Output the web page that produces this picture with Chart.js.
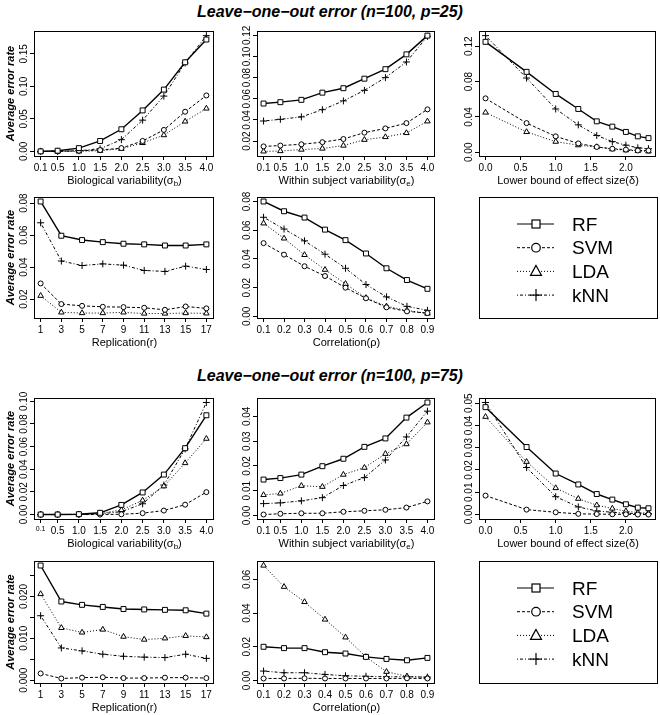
<!DOCTYPE html>
<html lang="en">
<head>
<meta charset="utf-8">
<title>Leave-one-out error</title>
<script src="https://cdn.jsdelivr.net/npm/chart.js@4.4.1/dist/chart.umd.min.js"></script>
<style>
    body { margin: 0; background: #fff; }
    #page { position: relative; width: 660px; height: 715px; overflow: hidden;
            font-family: "Liberation Sans", Arial, Helvetica, sans-serif; color: #000; }
    #page canvas, #page svg { position: absolute; }
    .main-title { position: absolute; left: 0; width: 660px; text-align: center;
                  font-size: 16px; line-height: 18px; font-weight: bold; font-style: italic; }
    .x-title { position: absolute; width: 220px; text-align: center; font-size: 11px;
               line-height: 14px; white-space: nowrap; }
    .x-title sub { font-size: 8px; line-height: 0; vertical-align: -2px; }
</style>
</head>
<body>
<div id="page"></div>
<script>
// Methods compared in every panel
const methods = ['RF', 'SVM', 'LDA', 'kNN'];

// x values and tick labels
const sigmaLevels = [0.1, 0.5, 1.0, 1.5, 2.0, 2.5, 3.0, 3.5, 4.0];
const sigmaTickLabels = ['0.1', '0.5', '1.0', '1.5', '2.0', '2.5', '3.0', '3.5', '4.0'];
const deltaLevels = [0, 0.585, 1, 1.322, 1.585, 1.807, 2, 2.17, 2.322];
const deltaTicks = [0, 0.5, 1, 1.5, 2];
const deltaTickLabels = ['0.0', '0.5', '1.0', '1.5', '2.0'];
const replicationLevels = [1, 3, 5, 7, 9, 11, 13, 15, 17];
const replicationTickLabels = ['1', '3', '5', '7', '9', '11', '13', '15', '17'];
const correlationLevels = [0.1, 0.2, 0.3, 0.4, 0.5, 0.6, 0.7, 0.8, 0.9];
const correlationTickLabels = ['0.1', '0.2', '0.3', '0.4', '0.5', '0.6', '0.7', '0.8', '0.9'];

// p = 25
const bio25RF  = [0.000, 0.001, 0.005, 0.016, 0.034, 0.063, 0.095, 0.137, 0.172];
const bio25SVM = [0.000, 0.000, 0.001, 0.002, 0.005, 0.016, 0.033, 0.061, 0.086];
const bio25LDA = [0.000, 0.000, 0.000, 0.001, 0.004, 0.013, 0.025, 0.046, 0.066];
const bio25KNN = [0.000, 0.000, 0.001, 0.004, 0.018, 0.048, 0.085, 0.136, 0.178];
const bio25YTicks = [0, 0.05, 0.10, 0.15];
const bio25YLabels = ['0.00', '0.05', '0.10', '0.15'];

const within25RF  = [0.0555, 0.0568, 0.0590, 0.0658, 0.0700, 0.0790, 0.0880, 0.1020, 0.1197];
const within25SVM = [0.0150, 0.0158, 0.0170, 0.0190, 0.0220, 0.0280, 0.0320, 0.0370, 0.0500];
const within25LDA = [0.0103, 0.0106, 0.0120, 0.0130, 0.0158, 0.0213, 0.0239, 0.0277, 0.0387];
const within25KNN = [0.0390, 0.0406, 0.0429, 0.0497, 0.0580, 0.0680, 0.0800, 0.0948, 0.1190];
const within25YTicks = [0.02, 0.04, 0.06, 0.08, 0.10, 0.12];
const within25YLabels = ['0.02', '0.04', '0.06', '0.08', '0.10', '0.12'];

const delta25RF  = [0.125, 0.091, 0.066, 0.049, 0.035, 0.029, 0.023, 0.018, 0.016];
const delta25SVM = [0.061, 0.033, 0.018, 0.010, 0.006, 0.004, 0.003, 0.002, 0.002];
const delta25LDA = [0.045, 0.023, 0.012, 0.008, 0.006, 0.0035, 0.0023, 0.0016, 0.001];
const delta25KNN = [0.132, 0.084, 0.049, 0.031, 0.019, 0.012, 0.008, 0.005, 0.004];
const delta25YTicks = [0, 0.04, 0.08, 0.12];
const delta25YLabels = ['0.00', '0.04', '0.08', '0.12'];

const rep25RF  = [0.0810, 0.0596, 0.0569, 0.0556, 0.0546, 0.0542, 0.0535, 0.0535, 0.0542];
const rep25SVM = [0.0298, 0.0169, 0.0158, 0.0152, 0.0150, 0.0146, 0.0133, 0.0154, 0.0142];
const rep25LDA = [0.0221, 0.0117, 0.0113, 0.0113, 0.0117, 0.0110, 0.0110, 0.0113, 0.0111];
const rep25KNN = [0.0677, 0.0438, 0.0410, 0.0420, 0.0412, 0.0379, 0.0373, 0.0406, 0.0385];
const rep25YTicks = [0.02, 0.04, 0.06, 0.08];
const rep25YLabels = ['0.02', '0.04', '0.06', '0.08'];

const corr25RF  = [0.0800, 0.0732, 0.0688, 0.0604, 0.0531, 0.0438, 0.0335, 0.0253, 0.0192];
const corr25SVM = [0.0510, 0.0430, 0.0349, 0.0281, 0.0200, 0.0126, 0.0063, 0.0035, 0.0023];
const corr25LDA = [0.0648, 0.0543, 0.0428, 0.0325, 0.0227, 0.0129, 0.0070, 0.0042, 0.0020];
const corr25KNN = [0.0690, 0.0608, 0.0526, 0.0433, 0.0335, 0.0222, 0.0136, 0.0070, 0.0042];
const corr25YTicks = [0, 0.02, 0.04, 0.06, 0.08];
const corr25YLabels = ['0.00', '0.02', '0.04', '0.06', '0.08'];

// p = 75
const bio75RF  = [0, 0, 0.0003, 0.0015, 0.0085, 0.0195, 0.0353, 0.0586, 0.0877];
const bio75SVM = [0, 0, 0, 0, 0.0002, 0.0012, 0.0035, 0.0087, 0.0198];
const bio75LDA = [0, 0, 0.0003, 0.0010, 0.0040, 0.0125, 0.0250, 0.0455, 0.0670];
const bio75KNN = [0, 0, 0, 0.0006, 0.0025, 0.0095, 0.0260, 0.0580, 0.0990];
const bio75YTicks = [0, 0.02, 0.04, 0.06, 0.08, 0.10];
const bio75YLabels = ['0.00', '0.02', '0.04', '0.06', '0.08', '0.10'];

const within75RF  = [0.0145, 0.0151, 0.0165, 0.0199, 0.0229, 0.0277, 0.0311, 0.0395, 0.0456];
const within75SVM = [0.0004, 0.0007, 0.0009, 0.0009, 0.0015, 0.0019, 0.0023, 0.0032, 0.0057];
const within75LDA = [0.0083, 0.0089, 0.0120, 0.0116, 0.0165, 0.0193, 0.0249, 0.0288, 0.0376];
const within75KNN = [0.0048, 0.0051, 0.0059, 0.0072, 0.0121, 0.0153, 0.0224, 0.0317, 0.0421];
const within75YTicks = [0, 0.01, 0.02, 0.03, 0.04];
const within75YLabels = ['0.00', '0.01', '0.02', '0.03', '0.04'];

const delta75RF  = [0.0482, 0.0303, 0.0184, 0.0135, 0.0092, 0.0067, 0.0046, 0.0031, 0.0028];
const delta75SVM = [0.0085, 0.0022, 0.0010, 0.0003, 0.0002, 0.0001, 0.0001, 0, 0];
const delta75LDA = [0.0439, 0.0237, 0.0119, 0.0071, 0.0042, 0.0027, 0.0015, 0.0009, 0.0006];
const delta75KNN = [0.0503, 0.0211, 0.0080, 0.0034, 0.0016, 0.0010, 0.0006, 0.0004, 0.0004];
const delta75YTicks = [0, 0.01, 0.02, 0.03, 0.04, 0.05];
const delta75YLabels = ['0.00', '0.01', '0.02', '0.03', '0.04', '0.05'];

const rep75RF  = [0.0274, 0.0188, 0.0180, 0.0175, 0.0170, 0.0169, 0.0168, 0.0167, 0.0159];
const rep75SVM = [0.0016, 0.0004, 0.0006, 0.0007, 0.0005, 0.0005, 0.0006, 0.0006, 0.0005];
const rep75LDA = [0.0206, 0.0125, 0.0114, 0.0121, 0.0104, 0.0097, 0.0100, 0.0106, 0.0103];
const rep75KNN = [0.0154, 0.0077, 0.0070, 0.0062, 0.0057, 0.0055, 0.0054, 0.0062, 0.0052];
const rep75YTicks = [0, 0.005, 0.010, 0.015, 0.020, 0.025];
const rep75YLabels = ['0.000', '', '0.010', '', '0.020', ''];

const corr75RF  = [0.0200, 0.0192, 0.0192, 0.0168, 0.0160, 0.0140, 0.0128, 0.0120, 0.0134];
const corr75SVM = [0.0012, 0.0012, 0.0013, 0.0012, 0.0012, 0.0012, 0.0012, 0.0013, 0.0012];
const corr75LDA = [0.0682, 0.0556, 0.0466, 0.0362, 0.0256, 0.0140, 0.0052, 0.0025, 0.0018];
const corr75KNN = [0.0056, 0.0046, 0.0046, 0.0036, 0.0028, 0.0025, 0.0022, 0.0022, 0.0020];
const corr75YTicks = [0, 0.02, 0.04, 0.06];
const corr75YLabels = ['0.00', '0.02', '0.04', '0.06'];

// Text
const blockTitles = ['Leave\u2212one\u2212out error (n=100, p=25)', 'Leave\u2212one\u2212out error (n=100, p=75)'];
const yTitle = 'Average error rate';
const xTitles = {
    bio: 'Biological variability(\u03c3<sub>b</sub>)',
    within: 'Within subject variability(\u03c3<sub>e</sub>)',
    delta: 'Lower bound of effect size(\u03b4)',
    rep: 'Replication(r)',
    corr: 'Correlation(\u03c1)'
};

// Layout (pixels) and line styles
const colLeft = [0, 220, 440];
const colBox = [[34, 215], [257, 436], [479, 657]];
const rowBox = [[31, 156], [197, 318], [398, 519], [561, 683]];
const titleY = [12, 376];
const PAD_TOP = 6, PAD_RIGHT = 3, X_AXIS_H = 18;

const styles = {
    RF:  { dash: [], width: 1.4, point: 'rect', radius: 3.5 },
    SVM: { dash: [3, 2], width: 1, point: 'circle', radius: 2.5 },
    LDA: { dash: [1, 2], width: 1, point: 'triangle', radius: 3.2 },
    kNN: { dash: [1, 2, 3, 2], width: 1, point: 'cross', radius: 3.5 }
};

const panels = [
    { row: 0, col: 0, x: sigmaLevels, xTicks: sigmaLevels, xLabels: sigmaTickLabels, xTitle: xTitles.bio,
      series: [bio25RF, bio25SVM, bio25LDA, bio25KNN], yTicks: bio25YTicks, yLabels: bio25YLabels },
    { row: 0, col: 1, x: sigmaLevels, xTicks: sigmaLevels, xLabels: sigmaTickLabels, xTitle: xTitles.within,
      series: [within25RF, within25SVM, within25LDA, within25KNN], yTicks: within25YTicks, yLabels: within25YLabels },
    { row: 0, col: 2, x: deltaLevels, xTicks: deltaTicks, xLabels: deltaTickLabels, xTitle: xTitles.delta,
      series: [delta25RF, delta25SVM, delta25LDA, delta25KNN], yTicks: delta25YTicks, yLabels: delta25YLabels },
    { row: 1, col: 0, x: replicationLevels, xTicks: replicationLevels, xLabels: replicationTickLabels, xTitle: xTitles.rep,
      series: [rep25RF, rep25SVM, rep25LDA, rep25KNN], yTicks: rep25YTicks, yLabels: rep25YLabels },
    { row: 1, col: 1, x: correlationLevels, xTicks: correlationLevels, xLabels: correlationTickLabels, xTitle: xTitles.corr,
      series: [corr25RF, corr25SVM, corr25LDA, corr25KNN], yTicks: corr25YTicks, yLabels: corr25YLabels },
    { row: 2, col: 0, x: sigmaLevels, xTicks: sigmaLevels, xLabels: sigmaTickLabels, xTitle: xTitles.bio, smallFirst: true,
      series: [bio75RF, bio75SVM, bio75LDA, bio75KNN], yTicks: bio75YTicks, yLabels: bio75YLabels },
    { row: 2, col: 1, x: sigmaLevels, xTicks: sigmaLevels, xLabels: sigmaTickLabels, xTitle: xTitles.within,
      series: [within75RF, within75SVM, within75LDA, within75KNN], yTicks: within75YTicks, yLabels: within75YLabels },
    { row: 2, col: 2, x: deltaLevels, xTicks: deltaTicks, xLabels: deltaTickLabels, xTitle: xTitles.delta,
      series: [delta75RF, delta75SVM, delta75LDA, delta75KNN], yTicks: delta75YTicks, yLabels: delta75YLabels },
    { row: 3, col: 0, x: replicationLevels, xTicks: replicationLevels, xLabels: replicationTickLabels, xTitle: xTitles.rep,
      series: [rep75RF, rep75SVM, rep75LDA, rep75KNN], yTicks: rep75YTicks, yLabels: rep75YLabels },
    { row: 3, col: 1, x: correlationLevels, xTicks: correlationLevels, xLabels: correlationTickLabels, xTitle: xTitles.corr,
      series: [corr75RF, corr75SVM, corr75LDA, corr75KNN], yTicks: corr75YTicks, yLabels: corr75YLabels }
];

Chart.defaults.font.family = '"Liberation Sans", Arial, Helvetica, sans-serif';
Chart.defaults.color = '#000';

const page = document.getElementById('page');

// Box around the plot region, like R's box()
const boxPlugin = {
    id: 'box',
    beforeDatasetsDraw(chart) {
        const { ctx, chartArea: a } = chart;
        ctx.save();
        ctx.strokeStyle = '#000';
        ctx.lineWidth = 1;
        ctx.strokeRect(Math.round(a.left) + 0.5, Math.round(a.top) + 0.5,
            Math.round(a.right - a.left), Math.round(a.bottom - a.top));
        ctx.restore();
    }
};

// R-style range: data range widened by 4% on each side
function paddedRange(values) {
    const lo = Math.min(...values), hi = Math.max(...values);
    const ext = (hi - lo) * 0.04;
    return [lo - ext, hi + ext];
}

function tickGrid() {
    return { display: true, drawOnChartArea: false, drawTicks: true, tickLength: 4, color: '#000', lineWidth: 1 };
}

function makePanel(p) {
    const left = colLeft[p.col];
    const [bx0, bx1] = colBox[p.col];
    const [by0, by1] = rowBox[p.row];
    const top = by0 - PAD_TOP;
    const width = bx1 + PAD_RIGHT - left;
    const height = by1 + X_AXIS_H - top;

    const canvas = document.createElement('canvas');
    canvas.width = width;
    canvas.height = height;
    canvas.style.left = left + 'px';
    canvas.style.top = top + 'px';
    canvas.style.width = width + 'px';
    canvas.style.height = height + 'px';
    page.appendChild(canvas);

    const [xMin, xMax] = paddedRange(p.x);
    const [yMin, yMax] = paddedRange(p.series.flat());
    const wideLabels = p.yLabels.some(l => l.length > 4);

    new Chart(canvas, {
        type: 'line',
        data: {
            datasets: methods.map((m, i) => ({
                label: m,
                data: p.x.map((x, j) => ({ x: x, y: p.series[i][j] })),
                borderColor: '#000',
                borderWidth: styles[m].width,
                borderDash: styles[m].dash,
                pointStyle: styles[m].point,
                pointRadius: styles[m].radius,
                pointBorderColor: '#000',
                pointBackgroundColor: '#fff',
                pointBorderWidth: 1,
                tension: 0,
                fill: false,
                clip: false
            }))
        },
        options: {
            responsive: false,
            animation: false,
            events: [],
            layout: { padding: { top: PAD_TOP, right: PAD_RIGHT, left: 0, bottom: 0 } },
            plugins: { legend: { display: false }, tooltip: { enabled: false } },
            scales: {
                x: {
                    type: 'linear',
                    min: xMin,
                    max: xMax,
                    bounds: 'data',
                    afterBuildTicks: s => { s.ticks = p.xTicks.map(v => ({ value: v })); },
                    afterFit: s => { s.height = X_AXIS_H; },
                    border: { display: false },
                    grid: tickGrid(),
                    ticks: {
                        autoSkip: false,
                        minRotation: 0,
                        maxRotation: 0,
                        padding: 2,
                        color: '#000',
                        font: ctx => ({ size: (p.smallFirst && ctx.index === 0) ? 7 : 10 }),
                        callback: (v, i) => p.xLabels[i]
                    }
                },
                y: {
                    type: 'linear',
                    min: yMin,
                    max: yMax,
                    bounds: 'data',
                    afterBuildTicks: s => { s.ticks = p.yTicks.map(v => ({ value: v })); },
                    afterFit: s => { s.width = bx0 - left; },
                    border: { display: false },
                    grid: tickGrid(),
                    ticks: {
                        autoSkip: false,
                        minRotation: 90,
                        maxRotation: 90,
                        crossAlign: 'center',
                        padding: wideLabels ? -7 : -4,
                        color: '#000',
                        font: { size: 10 },
                        callback: (v, i) => p.yLabels[i]
                    },
                    title: {
                        display: p.col === 0,
                        text: yTitle,
                        color: '#000',
                        font: { size: 11, weight: 'bold', style: 'italic' },
                        padding: { top: 4, bottom: 0 }
                    }
                }
            }
        },
        plugins: [boxPlugin]
    });

    // x axis title (html so the subscript stays real text)
    const xt = document.createElement('div');
    xt.className = 'x-title';
    xt.innerHTML = p.xTitle;
    xt.style.left = ((bx0 + bx1) / 2 - 110) + 'px';
    xt.style.top = (by1 + 24 - 7) + 'px';
    page.appendChild(xt);
}

// Legend box in the free third column
function makeLegend(row) {
    const [bx0, bx1] = colBox[2];
    const [by0, by1] = rowBox[row];
    const w = bx1 - bx0, h = by1 - by0;
    const ns = 'http://www.w3.org/2000/svg';
    const svg = document.createElementNS(ns, 'svg');
    svg.setAttribute('width', w + 1);
    svg.setAttribute('height', h + 1);
    svg.style.left = bx0 + 'px';
    svg.style.top = by0 + 'px';

    let html = `<rect x="0.5" y="0.5" width="${w}" height="${h}" fill="none" stroke="#000" stroke-width="1"/>`;
    methods.forEach((m, i) => {
        const y = 27 + i * 23.7;
        const mx = 57;
        const dash = styles[m].dash.length ? styles[m].dash.join(',') : 'none';
        html += `<line x1="38" y1="${y}" x2="75" y2="${y}" stroke="#000" stroke-width="1" stroke-dasharray="${dash}"/>`;
        if (m === 'RF') {
            html += `<rect x="${mx - 4}" y="${y - 4}" width="8" height="8" fill="#fff" stroke="#000" stroke-width="1.2"/>`;
        } else if (m === 'SVM') {
            html += `<circle cx="${mx}" cy="${y}" r="4.3" fill="#fff" stroke="#000" stroke-width="1.2"/>`;
        } else if (m === 'LDA') {
            html += `<polygon points="${mx},${y - 6} ${mx - 5.5},${y + 4} ${mx + 5.5},${y + 4}" fill="#fff" stroke="#000" stroke-width="1.2"/>`;
        } else {
            html += `<line x1="${mx - 6}" y1="${y}" x2="${mx + 6}" y2="${y}" stroke="#000" stroke-width="1.2"/>`;
            html += `<line x1="${mx}" y1="${y - 6}" x2="${mx}" y2="${y + 6}" stroke="#000" stroke-width="1.2"/>`;
        }
        html += `<text x="93" y="${y}" dominant-baseline="central" font-size="19" font-family="Liberation Sans, Arial, sans-serif" fill="#000">${m}</text>`;
    });
    svg.innerHTML = html;
    page.appendChild(svg);
}

blockTitles.forEach((t, i) => {
    const d = document.createElement('div');
    d.className = 'main-title';
    d.textContent = t;
    d.style.top = (titleY[i] - 9) + 'px';
    page.appendChild(d);
});

panels.forEach(makePanel);
makeLegend(1);
makeLegend(3);
</script>
</body>
</html>
